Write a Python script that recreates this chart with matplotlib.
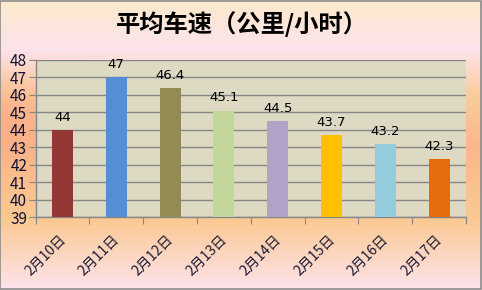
import numpy as np
import matplotlib.pyplot as plt
from matplotlib.colors import to_rgb
from matplotlib.patches import Rectangle

plt.rcParams['font.family'] = ['Noto Sans CJK SC', 'DejaVu Sans']

dates = ['2月10日', '2月11日', '2月12日', '2月13日', '2月14日', '2月15日', '2月16日', '2月17日']
speeds = [44, 47, 46.4, 45.1, 44.5, 43.7, 43.2, 42.3]
bar_colors = ['#953735', '#558ED5', '#948A54', '#C3D69B', '#B3A2C7', '#FFC000', '#93CDDD', '#E46C0A']

fig = plt.figure(figsize=(4.82, 2.90), dpi=100)

# gradient background (cream -> pink -> orange -> pink)
stops = [(0.0, '#FCEACB'), (0.17, '#FDE3EC'), (0.33, '#FBCB9A'),
         (0.50, '#FAB88A'), (0.75, '#FBC890'), (1.0, '#FDE3EC')]
h, w = 290, 482
ys = np.linspace(0, 1, h)
pos = [s[0] for s in stops]
cols = np.array([to_rgb(s[1]) for s in stops])
grad = np.stack([np.interp(ys, pos, cols[:, k]) for k in range(3)], axis=1)
img = np.repeat(grad[:, None, :], w, axis=1)
# salmon tint on the left side
xs = np.linspace(0, 1, w)
tint = np.exp(-((ys[:, None] - 0.42) / 0.13) ** 2) * np.clip(1 - xs[None, :] / 0.35, 0, 1)
salmon = np.array(to_rgb('#F8A582'))
img = img * (1 - tint[..., None] * 0.6) + salmon * tint[..., None] * 0.6
bg = fig.add_axes([0, 0, 1, 1], zorder=-1)
bg.imshow(img, aspect='auto', extent=[0, 1, 0, 1], origin='upper')
bg.axis('off')
fig.patches.append(Rectangle((0.001, 0.002), 0.996, 0.995, transform=fig.transFigure,
                             fill=False, edgecolor='#8C8C8C', linewidth=1.2))

ax = fig.add_axes([35.5 / 482, 1 - 217 / 290, (466 - 35.5) / 482, (217 - 60) / 290])
ax.set_facecolor('#DDD9C3')
x = np.arange(len(dates))
ax.bar(x, [s - 39 for s in speeds], bottom=39, width=0.39, color=bar_colors, zorder=3)
for i, v in enumerate(speeds):
    ax.text(i, v + 0.35, '{:g}'.format(v), ha='center', va='bottom', fontsize=9.5,
            family=['DejaVu Sans'], color='black')

ax.set_ylim(39, 48)
ax.set_xlim(-0.5, len(dates) - 0.5)
ax.set_yticks(range(39, 49))
ax.yaxis.grid(True, color='#868686', linewidth=1.0, zorder=1)
ax.set_axisbelow(True)
for s in ['top', 'right']:
    ax.spines[s].set_visible(False)
for s in ['left', 'bottom']:
    ax.spines[s].set_color('#868686')
    ax.spines[s].set_linewidth(1.0)
ax.tick_params(axis='y', direction='out', length=5, color='#868686', labelsize=11, pad=1,
               labelcolor='#111133')
ax.set_xticks(np.arange(-0.5, len(dates), 1.0))
ax.set_xticklabels([])
ax.tick_params(axis='x', direction='out', length=5, color='#868686')
for i, d in enumerate(dates):
    ax.text(i + 0.02, 37.85, d, rotation=45, rotation_mode='anchor', ha='right', va='center',
            fontsize=10, color='#1A1A33', family=['Noto Sans CJK SC', 'DejaVu Sans'])

fig.text(0.502, 1 - 24 / 290, '平均车速（公里/小时）', ha='center', va='center',
         fontsize=17.5, fontweight='bold', color='black')

fig.savefig('out.png', dpi=100)
